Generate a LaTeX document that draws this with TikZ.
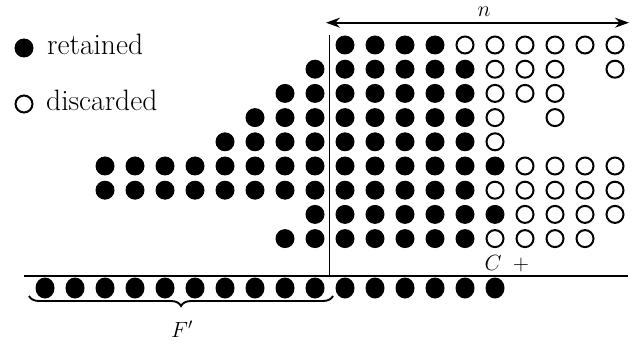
\RequirePackage{fix-cm}
\documentclass[tikz,border=0pt]{standalone}
\usetikzlibrary{arrows.meta,decorations.pathreplacing,shapes.geometric}
\begin{document}
\begin{tikzpicture}[x=1pt,y=-1pt,
  dot/.style={circle,fill=black,minimum size=19pt,inner sep=0pt},
  hole/.style={circle,draw=black,line width=2pt,minimum size=17pt,inner sep=0pt},
  bdot/.style={ellipse,fill=black,minimum width=19pt,minimum height=21pt,inner sep=0pt},
  rule/.style={line width=1.7pt},
  lbl/.style={inner sep=0pt,font=\fontsize{22}{26}\selectfont},
  legend/.style={inner sep=0pt,anchor=base west,font=\fontsize{29.5}{34}\selectfont}]
\useasboundingbox (0,0) rectangle (641,345);

% legend
\node[dot] (kf) at (24,48) {};
\node[legend] (kft) at (47,55) {retained};
\node[hole] (ko) at (24,104) {};
\node[legend] (kot) at (46,111) {discarded};

% grid of retained / discarded entries
\foreach \r/\fl/\op in {
  0/{0,1,2,3}/{4,5,6,7,8,9},
  1/{-1,0,1,2,3,4}/{5,6,7,9},
  2/{-2,-1,0,1,2,3,4}/{5,6,7},
  3/{-3,-2,-1,0,1,2,3,4}/{5,7},
  4/{-4,-3,-2,-1,0,1,2,3,4}/{5},
  5/{-8,-7,-6,-5,-4,-3,-2,-1,0,1,2,3,4,5}/{6,7,8,9},
  6/{-8,-7,-6,-5,-4,-3,-2,-1,0,1,2,3,4}/{5,6,7,8,9},
  7/{-1,0,1,2,3,4,5}/{6,7,8,9},
  8/{-2,-1,0,1,2,3,4}/{5,6,7,8}}{
  \foreach \c in \fl {
    \node[dot] (f\r x\c) at ({345+30*\c},{45+24.2*\r}) {};
  }
  \foreach \c in \op {
    \node[hole] (o\r x\c) at ({345+30*\c},{45+24.2*\r}) {};
  }
}

% bottom row
\foreach \c in {-10,...,5} {
  \node[bdot] (b\c) at ({345+30*\c},288) {};
}

% rules
\coordinate (vtop) at (329.5,35);
\coordinate (corner) at (329.5,275.7);
\coordinate (hl) at (24,275.7);
\coordinate (hr) at (628,275.7);
\draw[rule] (vtop) -- (corner);
\draw[rule] (hl) -- (hr);

% n arrow
\coordinate (al) at (326,22.7);
\coordinate (ar) at (629,22.7);
\draw[rule,{Stealth[length=14pt,width=10pt]}-{Stealth[length=14pt,width=10pt]}] (al) -- (ar);
\node[lbl] (nlab) at (484,12) {$n$};

% C +
\node[lbl,anchor=base] (clab) at (493,270) {$C$};
\node[lbl,anchor=base] (plab) at (521,270) {$+$};

% brace
\coordinate (bl) at (29,296);
\coordinate (br) at (333,296);
\draw[line width=1.9pt,decorate,decoration={brace,mirror,amplitude=10pt}] (bl) -- (br);
\node[lbl,anchor=base] (flab) at (182,337) {$F'$};
\end{tikzpicture}
\end{document}
